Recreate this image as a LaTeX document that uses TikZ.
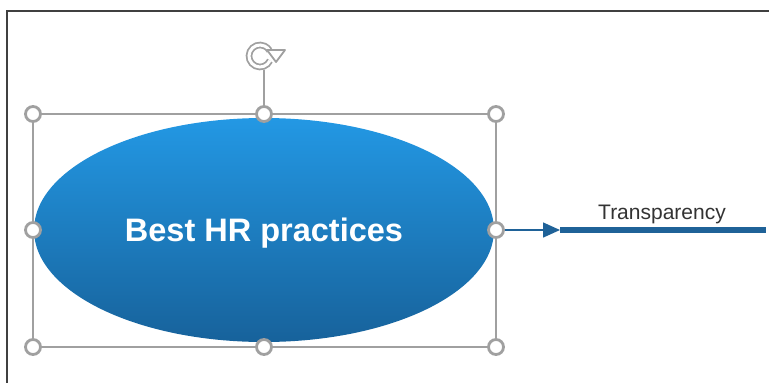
\documentclass[tikz,border=0pt]{standalone}
\usepackage{fontspec}
\setmainfont{Liberation Sans}
\usetikzlibrary{shapes.geometric,arrows.meta}
\definecolor{hrtop}{RGB}{35,152,228}
\definecolor{hrbottom}{RGB}{23,98,155}
\definecolor{handlegray}{RGB}{160,160,160}
\definecolor{linkblue}{RGB}{31,98,152}
\tikzset{
  handle/.style={circle,draw=handlegray,fill=white,line width=2.8pt,minimum size=15pt,inner sep=0pt},
  selline/.style={handlegray,line width=1.5pt},
}

\begin{document}
\begin{tikzpicture}[x=1pt,y=-1pt]
\useasboundingbox (0,0) rectangle (769,383);
% frame
\draw[black!75,line width=1.5pt] (7,383)--(7,11)--(769,11);
% selection box and rotation stem
\draw[selline] (33,114) rectangle (496,347);
\draw[selline] (264,70)--(264,114);
\draw[handlegray,line width=1.8pt,double=white,double distance=3pt] (260,56) ++(25:11) arc[start angle=25,end angle=330,radius=11];
\draw[handlegray,line width=1.8pt,fill=white,line join=round] (267,50)--(285,50)--(276,62)--cycle;
% ellipse
\node[ellipse,minimum width=460pt,minimum height=224pt,inner sep=0pt,text depth=0pt,top color=hrtop,bottom color=hrbottom,text=white,font=\fontsize{32.5}{38}\selectfont\bfseries] (hr) at (264,230) {Best HR practices};
% connector
\coordinate (tip) at (560,230);
\coordinate (lineend) at (766,230);
\draw[linkblue,line width=1.5pt,-{Triangle[length=17pt,width=15pt]}] (hr.east) -- (tip);
\draw[linkblue,line width=6.5pt] (tip) -- (lineend);
\node[anchor=base,text=black!80,font=\fontsize{21}{24}\selectfont] (lbl) at (662,219) {Transparency};
% handles
\foreach \x/\y [count=\i] in {33/114,264/114,496/114,33/230,496/230,33/347,264/347,496/347}
  \node[handle] (h\i) at (\x,\y) {};
\end{tikzpicture}
\end{document}
